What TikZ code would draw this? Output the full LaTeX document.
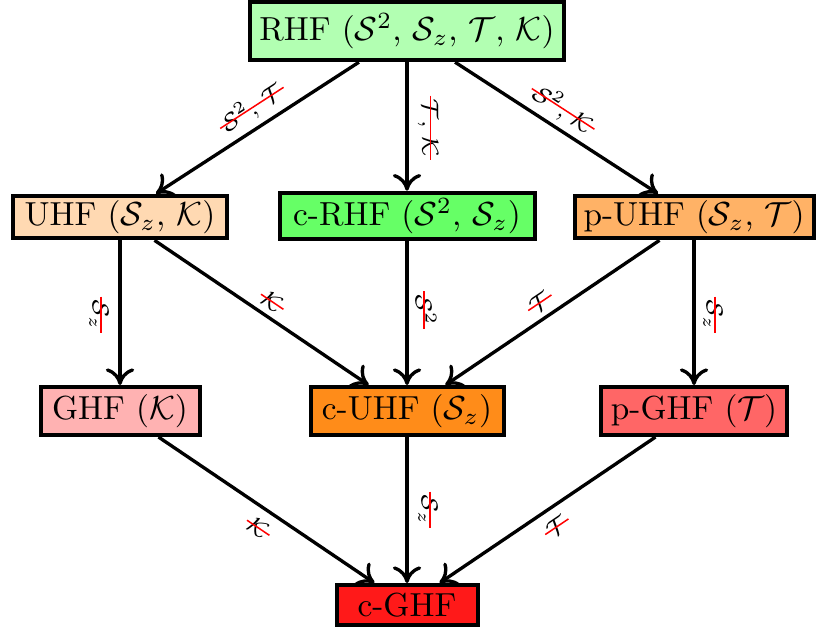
\documentclass[tikz,border=0pt]{standalone}
\usepackage{amsmath}
\usetikzlibrary{arrows.meta}
\newcommand\strk[1]{\setbox0\hbox{#1}\copy0\llap{\textcolor{red}{\rule[0.75ex]{\dimexpr\wd0+2pt\relax}{0.45pt}}\kern-1pt}}
\tikzset{
  box/.style={draw=black, line width=1.2pt, inner sep=1pt, font=\normalsize},
  arr/.style={line width=1pt, -{To[length=5pt,width=8.5pt]}},
  lab/.style={font=\scriptsize, inner sep=1pt},
}
\begin{document}
\begin{tikzpicture}[x=0.3pt, y=-0.3pt]
\useasboundingbox (0,0) rectangle (830,629);
\node[box, fill=green!30, minimum width=94pt, minimum height=17.5pt] (RHF) at (407,31) {RHF ($\mathcal{S}^2$, $\mathcal{S}_z$, $\mathcal{T}$, $\mathcal{K}$)};
\node[box, fill=orange!30, minimum width=64pt, minimum height=12.8pt] (UHF) at (120,217) {UHF ($\mathcal{S}_z$, $\mathcal{K}$)};
\node[box, fill=green!60, minimum width=76.5pt, minimum height=14pt] (cRHF) at (407,216) {c-RHF ($\mathcal{S}^2$, $\mathcal{S}_z$)};
\node[box, fill=orange!60, minimum width=71.7pt, minimum height=12.8pt] (pUHF) at (694,217) {p-UHF ($\mathcal{S}_z$, $\mathcal{T}$)};
\node[box, fill=red!30, minimum width=47.7pt, minimum height=14.4pt] (GHF) at (120,411) {GHF ($\mathcal{K}$)};
\node[box, fill=orange!90, minimum width=57.9pt, minimum height=14.4pt] (cUHF) at (407,411) {c-UHF ($\mathcal{S}_z$)};
\node[box, fill=red!60, minimum width=55.8pt, minimum height=14.4pt] (pGHF) at (694,411) {p-GHF ($\mathcal{T}$)};
\node[box, fill=red!90, minimum width=42.3pt, minimum height=12pt] (cGHF) at (407,605) {c-GHF};

\draw[arr] (RHF) -- (UHF);
\draw[arr] (RHF) -- (cRHF);
\draw[arr] (RHF) -- (pUHF);
\draw[arr] (UHF) -- (GHF);
\draw[arr] (UHF) -- (cUHF);
\draw[arr] (cRHF) -- (cUHF);
\draw[arr] (pUHF) -- (cUHF);
\draw[arr] (pUHF) -- (pGHF);
\draw[arr] (GHF) -- (cGHF);
\draw[arr] (cUHF) -- (cGHF);
\draw[arr] (pGHF) -- (cGHF);

\node[lab, rotate=33] (l1) at (252,108) {\strk{$\mathcal{S}^2$, $\mathcal{T}$}};
\node[lab, rotate=-90] (l2) at (428,128) {\strk{$\mathcal{T}$, $\mathcal{K}$}};
\node[lab, rotate=-33] (l3) at (563,109) {\strk{$\mathcal{S}^2$, $\mathcal{K}$}};
\node[lab, rotate=-90] (l4) at (99,315) {\strk{$\mathcal{S}_z$}};
\node[lab, rotate=-34] (l5) at (272,302) {\strk{$\mathcal{K}$}};
\node[lab, rotate=-90] (l6) at (426,310) {\strk{$\mathcal{S}^2$}};
\node[lab, rotate=34] (l7) at (540,303) {\strk{$\mathcal{T}$}};
\node[lab, rotate=-90] (l8) at (713,315) {\strk{$\mathcal{S}_z$}};
\node[lab, rotate=-34] (l9) at (258,528) {\strk{$\mathcal{K}$}};
\node[lab, rotate=-90] (l10) at (428,510) {\strk{$\mathcal{S}_z$}};
\node[lab, rotate=34] (l11) at (557,527) {\strk{$\mathcal{T}$}};
\end{tikzpicture}
\end{document}
